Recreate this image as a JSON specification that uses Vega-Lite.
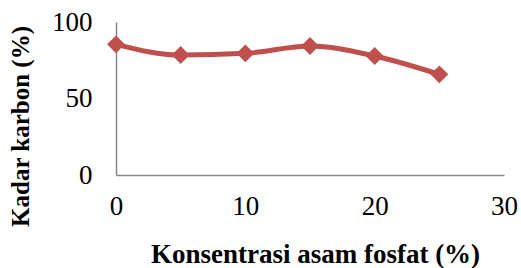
{
  "$schema": "https://vega.github.io/schema/vega-lite/v6.json",
  "autosize": {"type": "none"},
  "width": 388,
  "height": 153,
  "padding": {"left": 116, "top": 22, "right": 17, "bottom": 93},
  "background": "white",
  "config": {
    "view": {"stroke": null},
    "font": "Liberation Serif",
    "axis": {
      "grid": false,
      "ticks": false,
      "domainColor": "#868686",
      "domainWidth": 1.5,
      "labelFont": "Liberation Serif",
      "labelFontSize": 27,
      "labelColor": "black",
      "titleFont": "Liberation Serif",
      "titleFontWeight": "bold",
      "titleColor": "black"
    }
  },
  "data": {
    "values": [
      {"konsentrasi": 0, "kadar": 85.4},
      {"konsentrasi": 5, "kadar": 78.4},
      {"konsentrasi": 10, "kadar": 79.5},
      {"konsentrasi": 15, "kadar": 84.3},
      {"konsentrasi": 20, "kadar": 77.8},
      {"konsentrasi": 25, "kadar": 65.8}
    ]
  },
  "encoding": {
    "x": {
      "field": "konsentrasi",
      "type": "quantitative",
      "scale": {"domain": [0, 30], "nice": false},
      "axis": {"values": [0, 10, 20, 30], "labelPadding": 18, "title": "Konsentrasi asam fosfat (%)", "titleFontSize": 27, "titleX": 199, "titlePadding": 22, "labelFlush": false}
    },
    "y": {
      "field": "kadar",
      "type": "quantitative",
      "scale": {"domain": [0, 100], "nice": false},
      "axis": {"values": [0, 50, 100], "labelPadding": 24, "title": "Kadar karbon (%)", "titleFontSize": 25, "titleY": 104, "titlePadding": 18, "labelFlush": false}
    }
  },
  "layer": [
    {"mark": {"type": "line", "color": "#C0504D", "strokeWidth": 5, "interpolate": "monotone"}},
    {"mark": {"type": "point", "shape": "diamond", "filled": true, "color": "#C0504D", "opacity": 1, "size": 320}}
  ]
}
